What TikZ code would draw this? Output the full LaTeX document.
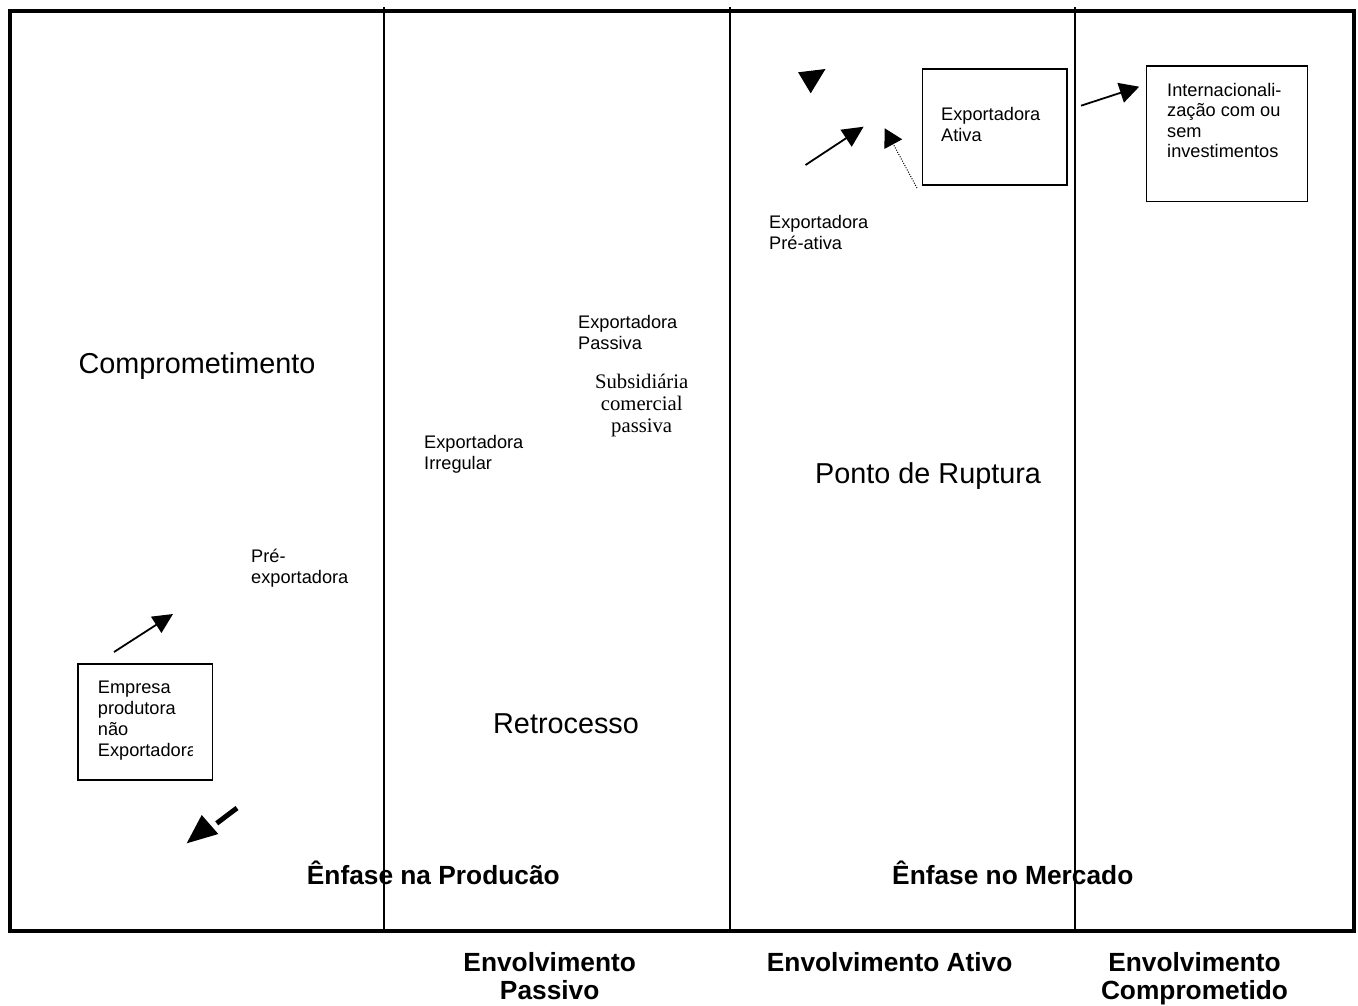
\documentclass[tikz,border=0pt]{standalone}
\usepackage{fontspec}
\setmainfont{Liberation Sans}
\newfontfamily\serifface{Liberation Serif}
\usetikzlibrary{arrows.meta}
\begin{document}
\begin{tikzpicture}[x=1pt,y=-1pt,
  small/.style={font=\fontsize{18.2}{21}\selectfont, inner sep=0pt, align=left, anchor=base west},
  big/.style={font=\fontsize{28.8}{33}\selectfont, inner sep=0pt, anchor=base west},
  boldtxt/.style={font=\bfseries\fontsize{26.3}{27.6}\selectfont, inner sep=0pt, align=center, anchor=base},
  boxed/.style={draw, line width=1.5pt, inner sep=0pt, anchor=north west},
  divider/.style={line width=1.5pt},
  arr/.style={line width=1.8pt, -{Triangle[length=20pt,width=19pt]}},
]
\useasboundingbox (0,0) rectangle (1358,1005);
% frame and dividers
\draw[line width=4pt] (10,11) rectangle (1354,931);
\draw[divider] (384,7) -- (384,931);
\draw[divider] (730,7) -- (730,931);
\draw[divider] (1075,7) -- (1075,931);
% boxes
\node[boxed, minimum width=134.5pt, minimum height=116pt] (empresa) at (77,663) {};
\node[boxed, minimum width=144.6pt, minimum height=115.7pt] (ativabox) at (921.7,68.3) {};
\node[boxed, minimum width=160.9pt, minimum height=135.7pt] (intlbox) at (1145.9,65) {};
% box texts (base anchor = baseline of last line)
\begin{scope}
\clip (77,663) rectangle (192,779);
\node[small] (empt) at (97.7,756) {Empresa\\produtora\\não\\Exportadora};
\end{scope}
\node[small] (ativa) at (941,141) {Exportadora\\Ativa};
\node[small, font=\fontsize{18.2}{20.6}\selectfont] (intl) at (1167,157.8) {Internacionali-\\zação com ou\\sem\\investimentos};
% free texts
\node[small] (pre) at (251,583) {Pré-\\exportadora};
\node[small] (irreg) at (424,469) {Exportadora\\Irregular};
\node[small] (passiva) at (578,349) {Exportadora\\Passiva};
\node[font=\serifface\fontsize{20.7}{22}\selectfont, align=center, anchor=base, inner sep=0pt] (subs) at (641.7,432) {Subsidiária\\comercial\\passiva};
\node[small] (preativa) at (769,249) {Exportadora\\Pré-ativa};
\node[big] (compr) at (78.3,373.5) {Comprometimento};
\node[big] (ruptura) at (815,483.3) {Ponto de Ruptura};
\node[big] (retro) at (493,733) {Retrocesso};
\node[boldtxt, anchor=base west] (prod) at (306.7,884) {Ênfase na Producão};
\node[boldtxt, anchor=base west] (merc) at (892,884) {Ênfase no Mercado};
\node[boldtxt] (envp) at (549.7,999.3) {Envolvimento\\Passivo};
\node[boldtxt, anchor=base west] (enva) at (766.7,971.7) {Envolvimento Ativo};
\node[boldtxt] (envc) at (1194.5,999.3) {Envolvimento\\Comprometido};
% arrows
\coordinate (a1s) at (114,652); \coordinate (a1e) at (173,614);
\draw[arr] (a1s) -- (a1e);
\coordinate (a2s) at (805.5,165); \coordinate (a2e) at (863.6,126.7);
\draw[line width=1.8pt, -{Triangle[length=21pt,width=20pt]}] (a2s) -- (a2e);
\coordinate (a3s) at (917,188); \coordinate (a3e) at (884.7,128.3);
\draw[line width=1pt, dash pattern=on 1pt off 1.5pt, -{Triangle[length=18pt,width=20pt]}] (a3s) -- (a3e);
\coordinate (a4s) at (1081,105.7); \coordinate (a4e) at (1139.2,86.7);
\draw[line width=1.8pt, -{Triangle[length=19.5pt,width=20.4pt]}] (a4s) -- (a4e);
% lower-left arrow (shaft and separate head)
\coordinate (a5s) at (237,808); \coordinate (a5m) at (216.7,823.3);
\draw[line width=5pt] (a5s) -- (a5m);
\fill (186.7,843.3) -- (201.7,815) -- (218.3,834) -- cycle;
% lone head
\fill (798.1,72.3) -- (825.5,69) -- (810.7,93.3) -- cycle;
\end{tikzpicture}
\end{document}
